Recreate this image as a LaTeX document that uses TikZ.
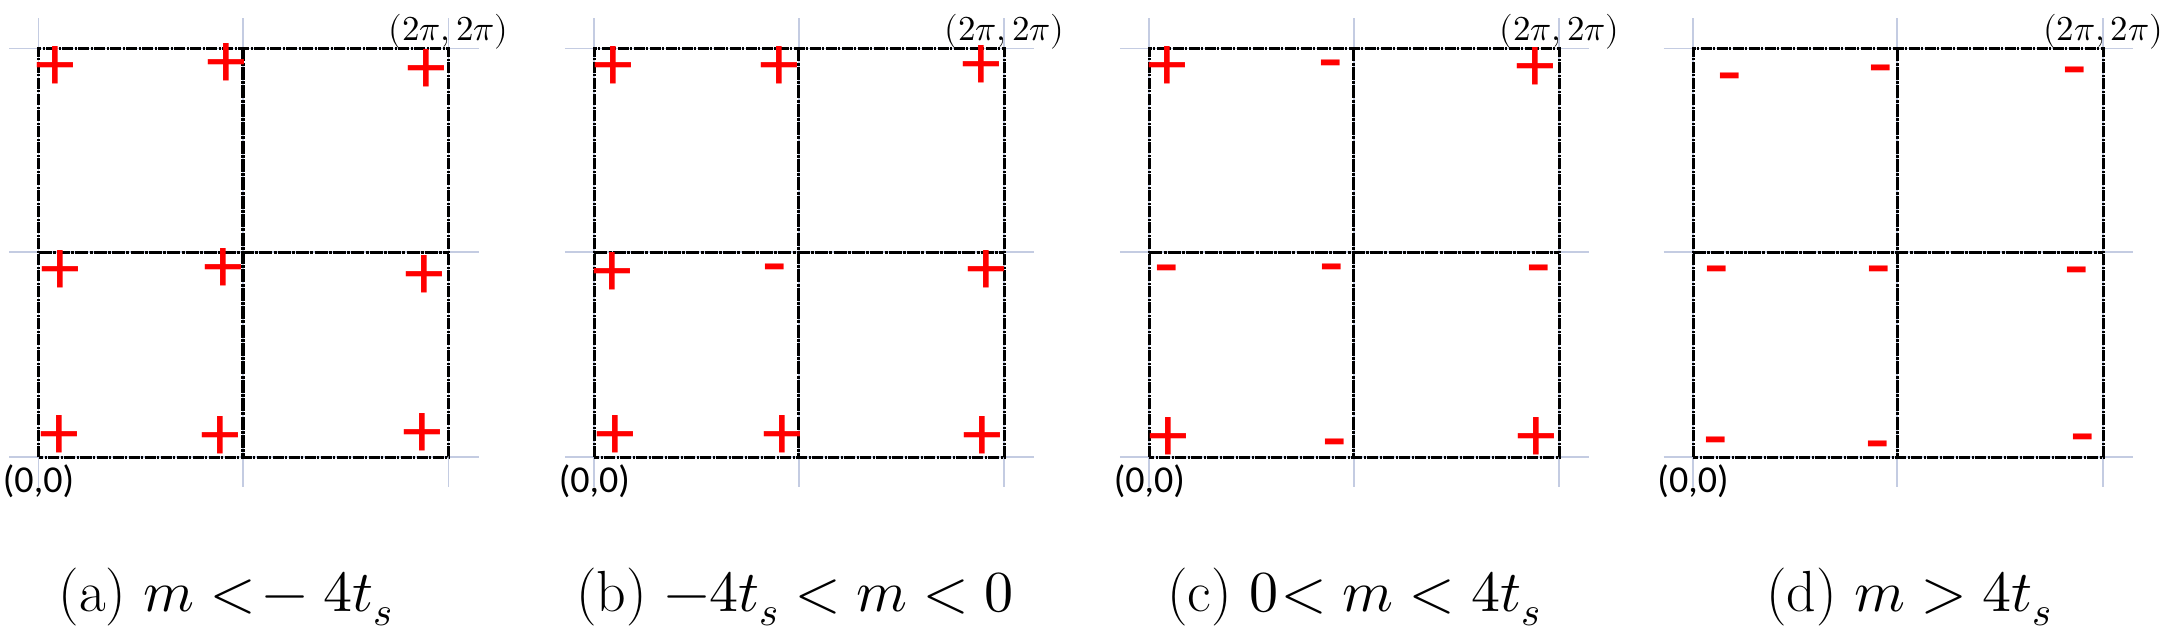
\documentclass[tikz,border=0pt]{standalone}
\usepackage{fontspec}
\usepackage{unicode-math}
\setmathfont{Latin Modern Math}
\newfontfamily\calib{Carlito}
\definecolor{gridgrey}{RGB}{196,204,226}
\definecolor{signred}{RGB}{255,0,0}
\begin{document}
\begin{tikzpicture}[x=1pt,y=-1pt,
  gridln/.style={draw=gridgrey, line width=1.8pt},
  boxln/.style={draw=black, line width=3pt, dash pattern=on 11pt off 1.5pt on 2pt off 1.5pt},
  midln/.style={draw=black, line width=3.6pt, dash pattern=on 13pt off 1.2pt on 3pt off 1.2pt},
  sgn/.style={text=signred, font=\calib\fontsize{80}{80}\selectfont, inner sep=0pt, anchor=base},
  plussign/.style={sgn, yshift=-24pt},
  minussign/.style={sgn, yshift=-20pt},
  cornerlbl/.style={font=\fontsize{35}{35}\selectfont, inner sep=0pt},
  originlbl/.style={font=\calib\fontsize{38}{38}\selectfont, inner sep=0pt},
  caption/.style={font=\fontsize{58}{58}\selectfont, inner sep=0pt, anchor=base}
]
\useasboundingbox (0,0) rectangle (2166,634);

% panels: grid lines and dashed boxes
\foreach \L/\nm in {38.5/a, 594.3/b, 1149.3/c, 1693/d}{
  \coordinate (\nm-bl) at (\L,457);
  \coordinate (\nm-tr) at (\L+410,48.5);
  \coordinate (\nm-mt) at (\L+204.3,48.5);
  \coordinate (\nm-mb) at (\L+204.3,457);
  \coordinate (\nm-ml) at (\L,252.3);
  \coordinate (\nm-mr) at (\L+410,252.3);
  % grey lines
  \draw[gridln] (\L-29.5,48.5) -- (\L+440,48.5);
  \draw[gridln] (\L-29.5,252.3) -- (\L+440,252.3);
  \draw[gridln] (\L-29.5,457) -- (\L+440,457);
  \draw[gridln] (\L,18.5) -- (\L,487);
  \draw[gridln] (\L+204.3,18.5) -- (\L+204.3,487);
  \draw[gridln] (\L+410,18.5) -- (\L+410,487);
  % black dashed boxes
  \draw[boxln] (\nm-bl) rectangle (\nm-tr);
  \draw[midln] (\nm-mt) -- (\nm-mb);
  \draw[midln] (\nm-ml) -- (\nm-mr);
  % labels
  \node[cornerlbl] (\nm-lbltr) at (\L+410,32) {$(2\pi,2\pi)$};
  \node[originlbl] (\nm-lblo) at (\L,481) {(0,0)};
}

% (a) signs
\node[plussign] (a1) at (55.7,66) {+};
\node[plussign] (a2) at (226,64) {+};
\node[plussign] (a3) at (426,69.3) {+};
\node[plussign] (a4) at (60.7,270) {+};
\node[plussign] (a5) at (223.3,268.3) {+};
\node[plussign] (a6) at (424.3,275) {+};
\node[plussign] (a7) at (59.3,435) {+};
\node[plussign] (a8) at (220.7,436) {+};
\node[plussign] (a9) at (422.7,433.3) {+};

% (b) signs
\node[plussign] (b1) at (613.3,66) {+};
\node[plussign] (b2) at (779,66) {+};
\node[plussign] (b3) at (981,65) {+};
\node[plussign] (b4) at (612.3,272.3) {+};
\node[minussign] (b5) at (775,269.3) {-};
\node[plussign] (b6) at (986,270) {+};
\node[plussign] (b7) at (615,435) {+};
\node[plussign] (b8) at (782.7,435) {+};
\node[plussign] (b9) at (982.7,436.7) {+};

% (c) signs
\node[plussign] (c1) at (1167.7,66) {+};
\node[minussign] (c2) at (1331,65.7) {-};
\node[plussign] (c3) at (1535,67.3) {+};
\node[minussign] (c4) at (1166.7,270) {-};
\node[minussign] (c5) at (1331.7,269.3) {-};
\node[minussign] (c6) at (1539,270) {-};
\node[plussign] (c7) at (1168.3,437.3) {+};
\node[minussign] (c8) at (1334.3,444) {-};
\node[plussign] (c9) at (1536.7,437.7) {+};

% (d) signs
\node[minussign] (d1) at (1729.9,78.2) {-};
\node[minussign] (d2) at (1880.5,70.8) {-};
\node[minussign] (d3) at (2074.8,72.8) {-};
\node[minussign] (d4) at (1716.8,271.4) {-};
\node[minussign] (d5) at (1878.8,271.4) {-};
\node[minussign] (d6) at (2076.8,272.7) {-};
\node[minussign] (d7) at (1716.1,442) {-};
\node[minussign] (d8) at (1878.2,446.8) {-};
\node[minussign] (d9) at (2082.8,439.4) {-};

% captions
\node[caption] (capa) at (226,611) {(a) $m \mathrel{<\mkern-3mu{-}}4t_s$};
\node[caption] (capb) at (795,611) {(b) $-4t_s<m<0$};
\node[caption] (capc) at (1354,611) {(c) $0\mkern-4mu<m<4t_s$};
\node[caption] (capd) at (1909,611) {(d) $m>4t_s$};
\end{tikzpicture}
\end{document}
